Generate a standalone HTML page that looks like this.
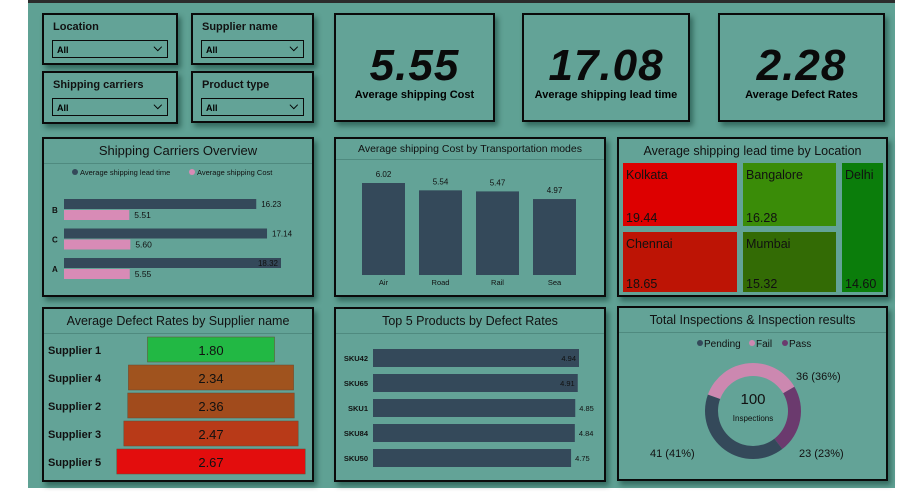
<!DOCTYPE html>
<html><head><meta charset="utf-8"><style>
body{margin:0;width:910px;height:499px;background:#fff;overflow:hidden;font-family:"Liberation Sans",sans-serif}
#bg{position:absolute;left:28px;top:0;width:867px;height:488px;background:#5fa194;border-top:3px solid #2b2b2b;box-sizing:border-box}
.p{position:absolute;border:2px solid #0a0a0a;box-sizing:border-box;background:#63a397;box-shadow:3px 4px 5px rgba(0,40,30,.45)}
.sl .t{position:absolute;left:9px;top:6px;font-size:11px;font-weight:bold;color:#111}
.sl .dd{position:absolute;left:8px;right:8px;top:25px;height:18px;border:1px solid #0a0a0a;font-size:9px;font-weight:bold;padding-left:4px;line-height:18px;box-sizing:border-box}
.sl .dd:after{content:"⌵";position:absolute;right:5px;top:-2px;font-size:11px}
.k .v{position:absolute;width:100%;text-align:center;top:26px;font-size:44px;font-weight:bold;font-style:italic;color:#0a0a0a;letter-spacing:1px}
.k .l{position:absolute;width:100%;text-align:center;top:74px;font-size:11px;font-weight:bold}
.tt{position:absolute;left:0;right:0;top:2px;height:22px;text-align:center;font-size:12.5px;border-bottom:1px solid #4f8a7f;line-height:20px;color:#111}
svg{position:absolute;left:0;top:0}
</style></head><body>
<div id="bg"></div>
<div class="p sl" style="left:42px;top:13px;width:136px;height:52px"><div class="t">Location</div><div class="dd">All</div></div>
<div class="p sl" style="left:191px;top:13px;width:123px;height:52px"><div class="t">Supplier name</div><div class="dd">All</div></div>
<div class="p sl" style="left:42px;top:71px;width:136px;height:53px"><div class="t">Shipping carriers</div><div class="dd">All</div></div>
<div class="p sl" style="left:191px;top:71px;width:123px;height:52px"><div class="t">Product type</div><div class="dd">All</div></div>
<div class="p k" style="left:334px;top:13px;width:161px;height:109px"><div class="v">5.55</div><div class="l">Average shipping Cost</div></div>
<div class="p k" style="left:522px;top:13px;width:168px;height:109px"><div class="v">17.08</div><div class="l">Average shipping lead time</div></div>
<div class="p k" style="left:718px;top:13px;width:167px;height:109px"><div class="v">2.28</div><div class="l">Average Defect Rates</div></div>
<div class="p" style="left:42px;top:137px;width:272px;height:160px"><div class="tt" style="font-size:13px">Shipping Carriers Overview</div></div>
<div class="p" style="left:334px;top:137px;width:272px;height:160px"><div class="tt" style="font-size:10.5px;height:18px;line-height:17px">Average shipping Cost by Transportation modes</div></div>
<div class="p" style="left:617px;top:137px;width:271px;height:160px"><div class="tt" style="font-size:12.5px;border:none">Average shipping lead time by Location</div></div>
<div class="p" style="left:42px;top:307px;width:272px;height:175px"><div class="tt">Average Defect Rates by Supplier name</div></div>
<div class="p" style="left:334px;top:307px;width:272px;height:175px"><div class="tt">Top 5 Products by Defect Rates</div></div>
<div class="p" style="left:617px;top:306px;width:271px;height:175px"><div class="tt">Total Inspections &amp; Inspection results</div></div>
<svg id="s" width="910" height="499"></svg>
<script>
const carriers=["B","C","A"];
const leadTime=[16.23,17.14,18.32];
const shipCost=[5.51,5.60,5.55];
const modes=["Air","Road","Rail","Sea"];
const modeCost=[6.02,5.54,5.47,4.97];
const locations=["Kolkata","Bangalore","Delhi","Chennai","Mumbai"];
const locLead=[19.44,16.28,14.60,18.65,15.32];
const suppliers=["Supplier 1","Supplier 4","Supplier 2","Supplier 3","Supplier 5"];
const supDefect=[1.80,2.34,2.36,2.47,2.67];
const skus=["SKU42","SKU65","SKU1","SKU84","SKU50"];
const skuDefect=[4.94,4.91,4.85,4.84,4.75];
const inspLabels=["Fail","Pass","Pending"];
const inspValues=[36,23,41];
const S=document.getElementById('s'),NS="http://www.w3.org/2000/svg";
function mk(tag,a,txt){const e=document.createElementNS(NS,tag);for(const k in a)e.setAttribute(k,a[k]);if(txt!=null)e.textContent=txt;S.appendChild(e);return e;}
function tx(x,y,t,sz,anc,fw,fill){return mk('text',{x:x,y:y,'font-size':sz,'text-anchor':anc||'start','font-weight':fw||'normal',fill:fill||'#111','font-family':'Liberation Sans, sans-serif'},t);}
let e=mk('circle',{cx:75,cy:172,r:3,fill:'#34495a'});
tx(80,175,'Average shipping lead time',7.5);
e=mk('circle',{cx:192,cy:172,r:3,fill:'#d88bb6'});
tx(197,175,'Average shipping Cost',7.5);
const cx0=64,cxs=217/18.32;
carriers.forEach((c,i)=>{const y=199+i*29.5;
 tx(52,y+14,c,8,'start','bold');
 let b=mk('rect',{x:cx0,y:y,width:leadTime[i]*cxs,height:10,fill:'#34495a'});
 b=mk('rect',{x:cx0,y:y+11,width:shipCost[i]*cxs,height:10,fill:'#d88bb6'});
 const inside=leadTime[i]*cxs>205;
 tx(inside?cx0+leadTime[i]*cxs-3:cx0+leadTime[i]*cxs+5,y+8,leadTime[i].toFixed(2),8,inside?'end':'start');
 tx(cx0+shipCost[i]*cxs+5,y+19,shipCost[i].toFixed(2),8.5);
});
const by=275,bs=92/6.02;
modes.forEach((m,i)=>{const x=362+i*57,h=modeCost[i]*bs;
 const b=mk('rect',{x:x,y:by-h,width:43,height:h,fill:'#34495a'});
 tx(x+21.5,by-h-6,modeCost[i].toFixed(2),8,'middle');tx(x+21.5,by+10,m,7.5,'middle');
});
const cells=[[623,163,114,63,'#dd0000'],[743,163,93,63,'#3a8c08'],[842,163,41,129,'#0b7d0b'],[623,232,114,60,'#bd1405'],[743,232,93,60,'#336b05']];
locations.forEach((l,i)=>{const c=cells[i];
 const r=mk('rect',{x:c[0],y:c[1],width:c[2],height:c[3],fill:c[4]});
 tx(c[0]+3,c[1]+16,l,12.5);tx(c[0]+3,c[1]+c[3]-4,locLead[i].toFixed(2),12.5);
});
const fc=['#22b844','#a0531e','#a14b1c','#b83a18','#e30d0d'];
suppliers.forEach((s,i)=>{const y=337+i*28,w=supDefect[i]*70.6;
 tx(48,y+17,s,11,'start','bold');
 const r=mk('rect',{x:211-w/2,y:y,width:w,height:25,fill:fc[i],stroke:'#6a4a30','stroke-width':.5});
 tx(211,y+18,supDefect[i].toFixed(2),13,'middle');
});
const ks=206/4.94;
skus.forEach((s,i)=>{const y=349+i*25,w=skuDefect[i]*ks;
 tx(368,y+12,s,7.5,'end','bold');
 const r=mk('rect',{x:373,y:y,width:w,height:18,fill:'#34495a'});
 const inside=i<2;tx(inside?373+w-3:373+w+4,y+12,skuDefect[i].toFixed(2),7.5,inside?'end':'start');
});
const dc={Fail:'#cc88b0',Pass:'#6b3a6e',Pending:'#34495a'};
const ccx=753,ccy=411,R=48,r0=35,tot=inspValues.reduce((a,b)=>a+b,0);
let ang=-70*Math.PI/180;
function pt(a,rr){return [ccx+rr*Math.sin(a),ccy-rr*Math.cos(a)];}
inspLabels.forEach((l,i)=>{const a2=ang+inspValues[i]/tot*2*Math.PI,lg=(a2-ang)>Math.PI?1:0;
 const p1=pt(ang,R),p2=pt(a2,R),p3=pt(a2,r0),p4=pt(ang,r0);
 const p=mk('path',{d:`M${p1}A${R},${R} 0 ${lg} 1 ${p2}L${p3}A${r0},${r0} 0 ${lg} 0 ${p4}Z`,fill:dc[l]});
 ang=a2;
});
tx(753,404,'100',15,'middle');tx(753,421,'Inspections',8,'middle');
tx(796,380,inspValues[0]+' ('+inspValues[0]+'%)',11);
tx(799,457,inspValues[1]+' ('+inspValues[1]+'%)',11);
tx(650,457,inspValues[2]+' ('+inspValues[2]+'%)',11);
[['Pending',700,'Pending'],['Fail',752,'Fail'],['Pass',785,'Pass']].forEach(d=>{
 const c=mk('circle',{cx:d[1],cy:343,r:3,fill:dc[d[0]]});
 tx(d[1]+4,347,d[2],10);
});
</script>
</body></html>
